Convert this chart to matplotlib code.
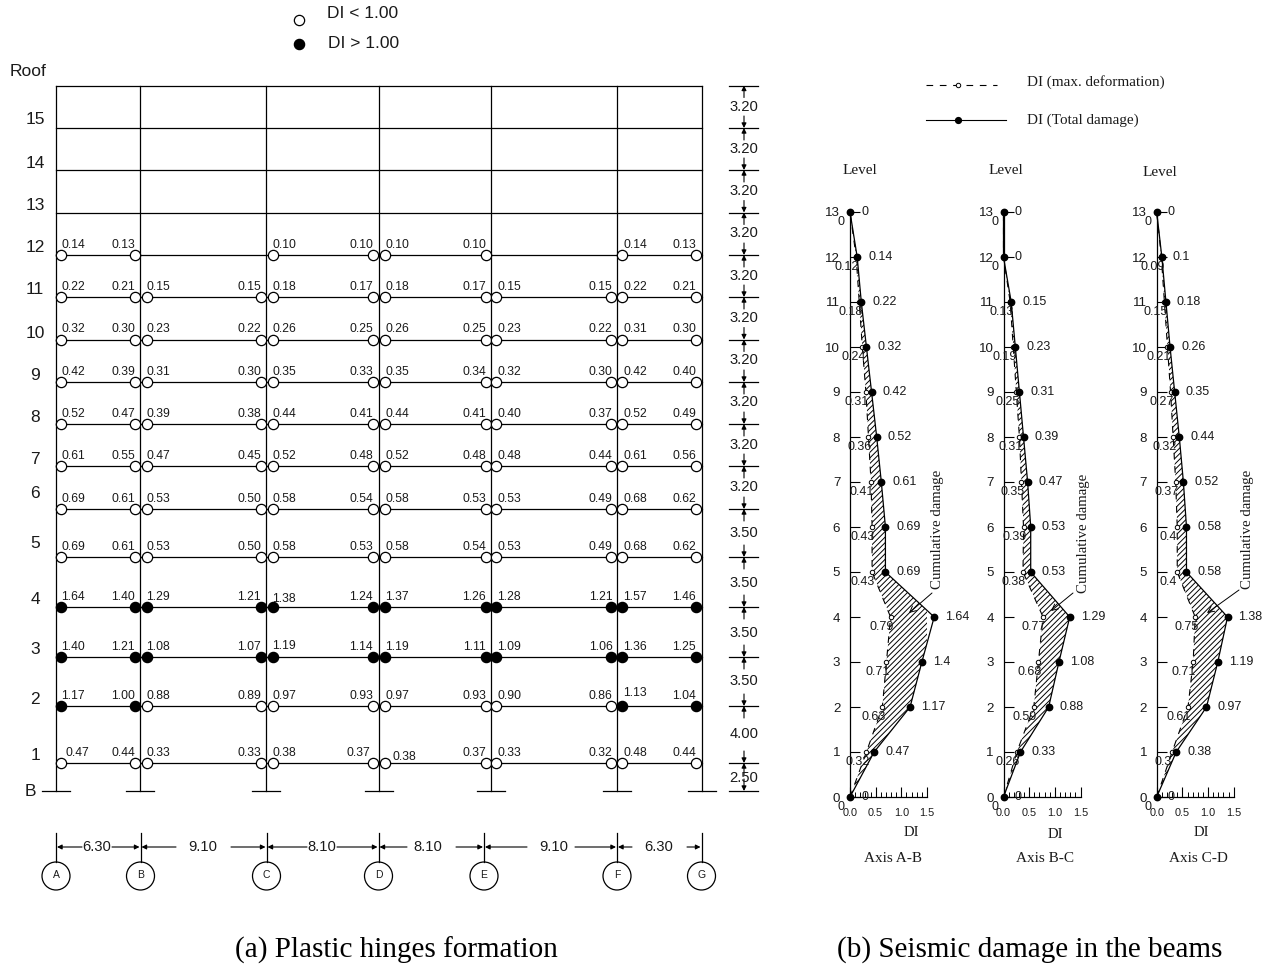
import matplotlib
matplotlib.use("Agg")
import matplotlib.pyplot as plt
from matplotlib.patches import Circle
from matplotlib.ticker import MultipleLocator

W, H = 1267, 964

# frame geometry (pixels)
column_names = ["A", "B", "C", "D", "E", "F", "G"]
column_x = [56, 140, 266, 378.5, 491, 617, 701.5]
bubble_x = [56, 140.5, 266.5, 378.5, 484, 617, 701.5]
level_names = ["15", "14", "13", "12", "11", "10", "9", "8", "7", "6", "5", "4", "3", "2", "1"]
level_y = [128, 170, 212.5, 255, 297, 339.5, 382, 424, 466, 509, 557, 607, 657, 706, 763]
level_label_y = [120, 163, 205, 247, 290, 333, 375, 417, 459, 494, 544, 600, 649, 699, 755]
roof_y = 85.5
base_y = 791

story_heights = ["3.20"] * 10 + ["3.50"] * 4 + ["4.00", "2.50"]
story_label_y = [107, 149, 191, 233, 276, 318, 360, 402, 445, 487, 533, 583, 633, 681, 734, 778]
span_names = ["6.30", "9.10", "8.10", "8.10", "9.10", "6.30"]
span_label_x = [97, 203, 322, 428, 554, 659]
span_gap_left = [15, 27, 15, 21, 27, 27]
span_gap_right = [15, 28, 15, 28, 21, 28]

# beam end positions: pixel x, and the label offset from it
hinge_x = [61, 135, 147, 261, 273, 373, 385, 486, 496, 610.5, 622, 696]
label_dx = [12, -12, 11, -12, 11, -12, 12, -12, 13, -10, 13, -12]

# DI per beam end, levels 12 to 1
di_12 = [0.14, 0.13, None, None, 0.10, 0.10, 0.10, 0.10, None, None, 0.14, 0.13]
di_11 = [0.22, 0.21, 0.15, 0.15, 0.18, 0.17, 0.18, 0.17, 0.15, 0.15, 0.22, 0.21]
di_10 = [0.32, 0.30, 0.23, 0.22, 0.26, 0.25, 0.26, 0.25, 0.23, 0.22, 0.31, 0.30]
di_9 = [0.42, 0.39, 0.31, 0.30, 0.35, 0.33, 0.35, 0.34, 0.32, 0.30, 0.42, 0.40]
di_8 = [0.52, 0.47, 0.39, 0.38, 0.44, 0.41, 0.44, 0.41, 0.40, 0.37, 0.52, 0.49]
di_7 = [0.61, 0.55, 0.47, 0.45, 0.52, 0.48, 0.52, 0.48, 0.48, 0.44, 0.61, 0.56]
di_6 = [0.69, 0.61, 0.53, 0.50, 0.58, 0.54, 0.58, 0.53, 0.53, 0.49, 0.68, 0.62]
di_5 = [0.69, 0.61, 0.53, 0.50, 0.58, 0.53, 0.58, 0.54, 0.53, 0.49, 0.68, 0.62]
di_4 = [1.64, 1.40, 1.29, 1.21, 1.38, 1.24, 1.37, 1.26, 1.28, 1.21, 1.57, 1.46]
di_3 = [1.40, 1.21, 1.08, 1.07, 1.19, 1.14, 1.19, 1.11, 1.09, 1.06, 1.36, 1.25]
di_2 = [1.17, 1.00, 0.88, 0.89, 0.97, 0.93, 0.97, 0.93, 0.90, 0.86, 1.13, 1.04]
di_1 = [0.47, 0.44, 0.33, 0.33, 0.38, 0.37, 0.38, 0.37, 0.33, 0.32, 0.48, 0.44]
di_rows = [di_12, di_11, di_10, di_9, di_8, di_7, di_6, di_5, di_4, di_3, di_2, di_1]

# a few labels sit off the regular spot: (row, end): (dx, dy)
label_nudge = {(11, 0): (4, 0), (11, 6): (7, 4), (10, 10): (0, -3), (8, 4): (0, 2),
               (9, 4): (0, -1), (11, 5): (-3, 0)}

# damage profiles, level 0 to 13
levels = list(range(14))
total_ab = [0, 0.47, 1.17, 1.4, 1.64, 0.69, 0.69, 0.61, 0.52, 0.42, 0.32, 0.22, 0.14, 0]
deform_ab = [0, 0.32, 0.63, 0.71, 0.79, 0.43, 0.43, 0.41, 0.36, 0.31, 0.24, 0.18, 0.12, 0]
total_bc = [0, 0.33, 0.88, 1.08, 1.29, 0.53, 0.53, 0.47, 0.39, 0.31, 0.23, 0.15, 0, 0]
deform_bc = [0, 0.26, 0.59, 0.68, 0.77, 0.38, 0.39, 0.35, 0.31, 0.25, 0.19, 0.13, 0, 0]
total_cd = [0, 0.38, 0.97, 1.19, 1.38, 0.58, 0.58, 0.52, 0.44, 0.35, 0.26, 0.18, 0.1, 0]
deform_cd = [0, 0.3, 0.61, 0.71, 0.75, 0.4, 0.4, 0.37, 0.32, 0.27, 0.21, 0.15, 0.09, 0]

SANS = "Liberation Sans"
SERIF = "Liberation Serif"
plt.rcParams["font.family"] = SANS
plt.rcParams["hatch.linewidth"] = 0.7
PX = 72 / 100  # one pixel in points

fig = plt.figure(figsize=(W / 100, H / 100), dpi=100)
ax = fig.add_axes([0, 0, 1, 1])
ax.set_xlim(0, W)
ax.set_ylim(H, 0)
ax.axis("off")

LW = 0.9
TXT = "#1a1a1a"

# beams and columns
for y in [roof_y] + level_y:
    ax.plot([column_x[0], column_x[-1]], [y, y], color="k", lw=LW, zorder=1)
for x in column_x:
    ax.plot([x, x], [roof_y, base_y], color="k", lw=LW, zorder=1)
    ax.plot([x - 14, x + 14], [base_y, base_y], color="k", lw=LW, zorder=1)

# level names
ax.text(28, 71, "Roof", fontsize=12.5, color=TXT, ha="center", va="center")
ax.text(30, 791, "B", fontsize=12.5, color=TXT, ha="center", va="center")
for name, y in zip(level_names, level_label_y):
    ax.text(35, y, name, fontsize=12.5, color=TXT, ha="center", va="center")

# plastic hinges
for i, (row, y) in enumerate(zip(di_rows, level_y[3:])):
    for j, (value, x, dx) in enumerate(zip(row, hinge_x, label_dx)):
        if value is None:
            continue
        ax.plot(x, y, "o", ms=7.4, mec="k", mew=0.9, mfc="k" if value >= 1.0 else "w", zorder=3)
        nudge = label_nudge.get((i, j), (0, 0))
        ax.text(x + dx + nudge[0], y - 10 + nudge[1], f"{value:.2f}", fontsize=8.7, color=TXT,
                ha="center", va="center", zorder=4)

# legend of hinges
ax.plot(299, 20, "o", ms=7.4, mec="k", mew=0.9, mfc="w")
ax.plot(299, 44, "o", ms=7.4, mec="k", mew=0.9, mfc="k")
ax.text(327, 14, "DI < 1.00", fontsize=12.5, color=TXT, va="center")
ax.text(328, 43, "DI > 1.00", fontsize=12.5, color=TXT, va="center")


def dim_arrow(start, end):
    ax.annotate("", xy=end, xytext=start,
                arrowprops=dict(arrowstyle="-|>", color="k", lw=0.8, mutation_scale=7,
                                shrinkA=0, shrinkB=0))


# storey heights on the right
all_y = [roof_y] + level_y + [base_y]
for i, y in enumerate(all_y):
    ax.plot([729, 758], [y, y], color="k", lw=LW)
    if i > 0:
        dim_arrow((744, y - 12), (744, y))
    if i < len(all_y) - 1:
        dim_arrow((744, y + 12), (744, y))
for name, y in zip(story_heights, story_label_y):
    ax.text(744, y, name, fontsize=10.6, color=TXT, ha="center", va="center")

# bay widths and grid bubbles
for i, name in enumerate(span_names):
    xc = span_label_x[i]
    dim_arrow((xc - span_gap_left[i], 847), (bubble_x[i] + 1, 847))
    dim_arrow((xc + span_gap_right[i], 847), (bubble_x[i + 1] - 1, 847))
    ax.text(xc, 847, name, fontsize=10.6, color=TXT, ha="center", va="center")
for name, x in zip(column_names, bubble_x):
    ax.plot([x, x], [820 + 13, 862], color="k", lw=LW)
    ax.add_patch(Circle((x, 876), 14, fc="w", ec="k", lw=LW))
    ax.text(x, 875.5, name, fontsize=7.5, color=TXT, ha="center", va="center")

# legend of the profiles
ax.plot([926, 997], [85, 85], color="k", lw=0.8, ls=(0, (6, 6)))
ax.plot(958, 85, "o", ms=3.2, mec="k", mew=0.7, mfc="w")
ax.plot([926, 1006], [120, 120], color="k", lw=0.8)
ax.plot(958, 120, "o", ms=4.2, color="k")
ax.text(1027, 82, "DI (max. deformation)", family=SERIF, fontsize=10.9, color=TXT, va="center")
ax.text(1027, 120, "DI (Total damage)", family=SERIF, fontsize=10.9, color=TXT, va="center")

# captions
ax.text(396.5, 950, "(a) Plastic hinges formation", family=SERIF, fontsize=21, color="k", ha="center", va="center")
ax.text(1030, 950, "(b) Seismic damage in the beams", family=SERIF, fontsize=21, color="k", ha="center", va="center")


def damage_panel(x0, total, deform, title, title_xy, level_xy, di_xy, note_xy, arrow):
    # axis spans DI 0..1.5 over 77 px and levels 0..13 over 585 px
    panel = fig.add_axes([x0 / W, 1 - 797 / H, 77 / W, 585 / H])
    panel.patch.set_alpha(0)
    panel.set_xlim(0, 1.5)
    panel.set_ylim(0, 13)
    panel.spines["top"].set_visible(False)
    panel.spines["right"].set_visible(False)
    panel.spines["left"].set_linewidth(LW)
    panel.spines["bottom"].set_linewidth(LW)
    panel.set_yticks(levels)
    panel.xaxis.set_major_locator(MultipleLocator(0.5))
    panel.xaxis.set_minor_locator(MultipleLocator(0.1))
    panel.tick_params(axis="y", direction="in", length=10 * PX, width=0.8, labelsize=9.6, pad=7, labelcolor=TXT)
    panel.tick_params(axis="x", which="major", direction="in", length=10 * PX, width=0.8, labelsize=7.8, pad=8, labelcolor=TXT)
    panel.tick_params(axis="x", which="minor", direction="in", length=5 * PX, width=0.7)
    panel.xaxis.set_major_formatter("{x:.1f}")

    panel.fill_betweenx(levels, deform, total, facecolor="none", edgecolor="k", hatch="//////", linewidth=0, zorder=1)
    panel.plot(deform, levels, color="k", lw=0.8, ls=(0, (6, 6)), marker="o", ms=3.2,
               mfc="w", mew=0.7, clip_on=False, zorder=3)
    panel.plot(total, levels, color="k", lw=0.9, marker="o", ms=4.6, clip_on=False, zorder=4)

    for value, deform_value, level in zip(total, deform, levels):
        panel.annotate(f"{value:g}", (value, level), xytext=(11 * PX, 0), textcoords="offset points",
                       fontsize=9, color=TXT, ha="left", va="center", annotation_clip=False)
        panel.annotate(f"{deform_value:g}", (deform_value, level), xytext=(-9 * PX, -10 * PX),
                       textcoords="offset points", fontsize=9, color=TXT, ha="center", va="center",
                       annotation_clip=False)

    ax.text(level_xy[0], level_xy[1], "Level", family=SERIF, fontsize=11, color=TXT, ha="center", va="center")
    ax.text(di_xy[0], di_xy[1], "DI", family=SERIF, fontsize=10.5, color=TXT, ha="center", va="center")
    ax.text(title_xy[0], title_xy[1], title, family=SERIF, fontsize=11, color=TXT, ha="center", va="center")
    ax.text(note_xy[0], note_xy[1], "Cumulative damage", family=SERIF, fontsize=10.7, color=TXT,
            rotation=90, ha="center", va="center")
    ax.annotate("", xy=arrow[1], xytext=arrow[0], zorder=6,
                arrowprops=dict(arrowstyle="->", color="k", lw=0.7, mutation_scale=11, shrinkA=0, shrinkB=0))


damage_panel(850, total_ab, deform_ab, "Axis A-B", (893, 858), (860, 171), (911, 832), (937, 529),
             ((932, 593), (909, 613)))
damage_panel(1003.5, total_bc, deform_bc, "Axis B-C", (1045, 858), (1006, 171), (1055, 835), (1083, 533),
             ((1073, 593), (1051, 611)))
damage_panel(1156.7, total_cd, deform_cd, "Axis C-D", (1198, 858), (1160, 173), (1201, 833), (1247, 529),
             ((1239, 590), (1207, 613)))

fig.savefig("out.png", dpi=100)
